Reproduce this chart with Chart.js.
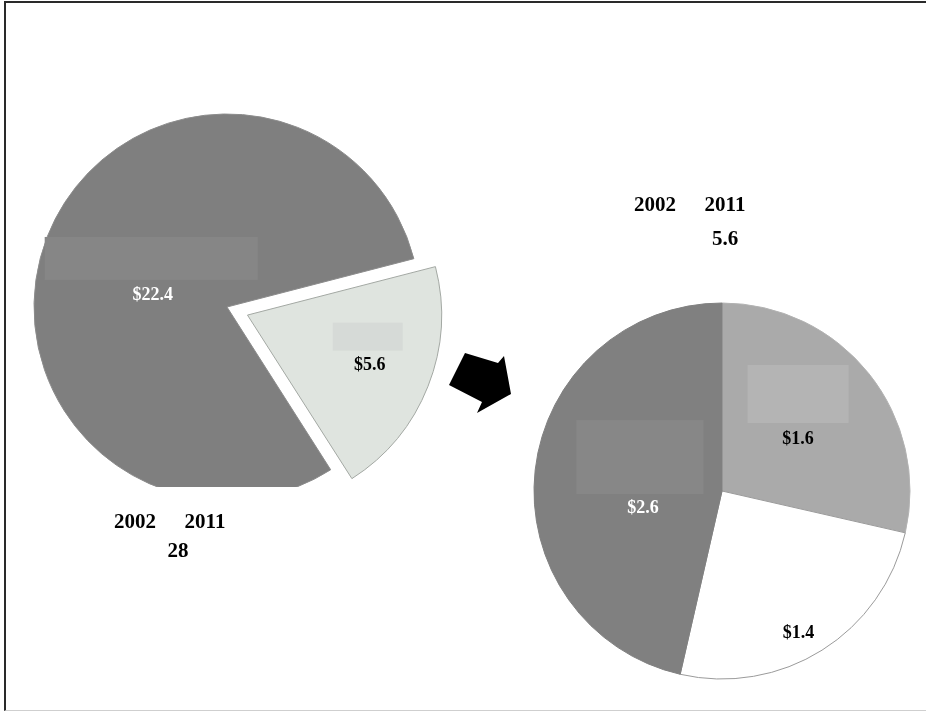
<!DOCTYPE html>
<html>
<head>
<meta charset="utf-8">
<script src="https://cdn.jsdelivr.net/npm/chart.js@4/dist/chart.umd.min.js"></script>
<style>
  html, body { margin:0; padding:0; background:#fff; }
  body { width:926px; height:714px; position:relative; overflow:hidden; font-family:"Liberation Serif", "DejaVu Serif", serif; }
  #frame { position:absolute; left:4px; top:1px; width:922px; height:710px; border-left:2px solid #2a2a2a; border-top:2px solid #2a2a2a; border-bottom:1px solid #cfcfcf; box-sizing:border-box; }
  #leftClip { position:absolute; left:0; top:0; width:926px; height:487px; overflow:hidden; }
  #leftWrap { position:absolute; left:7px; top:87px; width:440px; height:440px; }
  #rightWrap { position:absolute; left:522px; top:291px; width:400px; height:400px; }
  .t { position:absolute; font-weight:bold; font-size:21px; color:#000; line-height:1; transform:translate(-50%,-50%); white-space:nowrap; }
  #arrow { position:absolute; left:0; top:0; }
</style>
</head>
<body>
<div id="frame"></div>
<div id="leftClip"><div id="leftWrap"><canvas id="leftPie" width="440" height="440"></canvas></div></div>
<div id="rightWrap"><canvas id="rightPie" width="400" height="400"></canvas></div>
<svg id="arrow" width="926" height="714"><polygon points="465,353 498,363 504,356 511,394 477,413 482,402 449,385" fill="#000"/></svg>
<div class="t" style="left:135px;top:521px;">2002</div>
<div class="t" style="left:205px;top:521px;">2011</div>
<div class="t" style="left:178px;top:550px;">28</div>
<div class="t" style="left:655px;top:204px;">2002</div>
<div class="t" style="left:725px;top:204px;">2011</div>
<div class="t" style="left:725px;top:238px;">5.6</div>
<script>
// ---- data ----
const leftCategories = ['其他', '部分'];
const leftValues = [22.4, 5.6];
const rightCategories = ['类别一', '类别二', '类别三'];
const rightValues = [1.6, 1.4, 2.6];

// ---- styling / placement (not data) ----
const leftColors = ['#7f7f7f', '#dfe4df'];
const leftBorders = ['#8c8c8c', '#a3a8a3'];
const leftOffsets = [0, 88];
const leftLabelStyle = [
  {color:'#ffffff', da:-12.3, rf:0.39, box:{dx:-1.5, dy:-36.5, w:213, h:43, c:'#868686'}},
  {color:'#000000', da:1, rf:0.68, box:{dx:-2, dy:-29, w:70, h:28, c:'#d6dad7'}}
];
const rightColors = ['#aaaaaa', '#ffffff', '#808080'];
const rightBorders = ['#b2b2b2', '#9a9a9a', '#808080'];
const rightLabelStyle = [
  {color:'#000000', da:4.2, rf:0.49, box:{dx:0, dy:-45, w:101, h:58, c:'#b4b4b4'}},
  {color:'#000000', da:3.9, rf:0.86, box:null},
  {color:'#ffffff', da:-18.6, rf:0.43, box:{dx:-3, dy:-51, w:127, h:74, c:'#878787'}}
];

const fmt = v => '$' + v.toFixed(1);

// same shift Chart.js applies to an offset arc
function arcShift(off, circ) {
  const base = off / 4;
  const fix = 1 - Math.sin(Math.min(Math.PI, circ || 0));
  return base + base * fix;
}

function labelPlugin(styles, values) {
  return {
    id: 'sliceLabels',
    afterDatasetsDraw(chart) {
      const ctx = chart.ctx;
      const meta = chart.getDatasetMeta(0);
      const ds = chart.data.datasets[0];
      meta.data.forEach((arc, i) => {
        const p = arc.getProps(['x','y','startAngle','endAngle','outerRadius','circumference'], true);
        const mid = (p.startAngle + p.endAngle) / 2;
        const off = Array.isArray(ds.offset) ? ds.offset[i] : (ds.offset || 0);
        const sh = arcShift(off, p.circumference);
        const cx = p.x + Math.cos(mid) * sh;
        const cy = p.y + Math.sin(mid) * sh;
        const st = styles[i];
        const a = mid + st.da * Math.PI / 180;
        const lx = cx + Math.cos(a) * p.outerRadius * st.rf;
        const ly = cy + Math.sin(a) * p.outerRadius * st.rf;
        ctx.save();
        if (st.box) {
          ctx.fillStyle = st.box.c;
          ctx.fillRect(lx + st.box.dx - st.box.w / 2, ly + st.box.dy - st.box.h / 2, st.box.w, st.box.h);
        }
        ctx.fillStyle = st.color;
        ctx.font = 'bold 18px "Liberation Serif", serif';
        ctx.textAlign = 'center';
        ctx.textBaseline = 'middle';
        ctx.fillText(fmt(values[i]), lx, ly);
        ctx.restore();
      });
    }
  };
}

const common = {
  responsive: false,
  animation: false,
  events: [],
  layout: { padding: 0 },
  plugins: { legend: { display: false }, tooltip: { enabled: false } }
};

new Chart(document.getElementById('leftPie'), {
  type: 'pie',
  data: {
    labels: leftCategories,
    datasets: [{
      data: leftValues,
      backgroundColor: leftColors,
      borderColor: leftBorders,
      borderWidth: 1,
      offset: leftOffsets
    }]
  },
  options: Object.assign({}, common, { rotation: 147.5, radius: 193 }),
  plugins: [labelPlugin(leftLabelStyle, leftValues)]
});

new Chart(document.getElementById('rightPie'), {
  type: 'pie',
  data: {
    labels: rightCategories,
    datasets: [{
      data: rightValues,
      backgroundColor: rightColors,
      borderColor: rightBorders,
      borderWidth: 1
    }]
  },
  options: Object.assign({}, common, { rotation: 0, radius: 188 }),
  plugins: [labelPlugin(rightLabelStyle, rightValues)]
});
</script>
</body>
</html>
